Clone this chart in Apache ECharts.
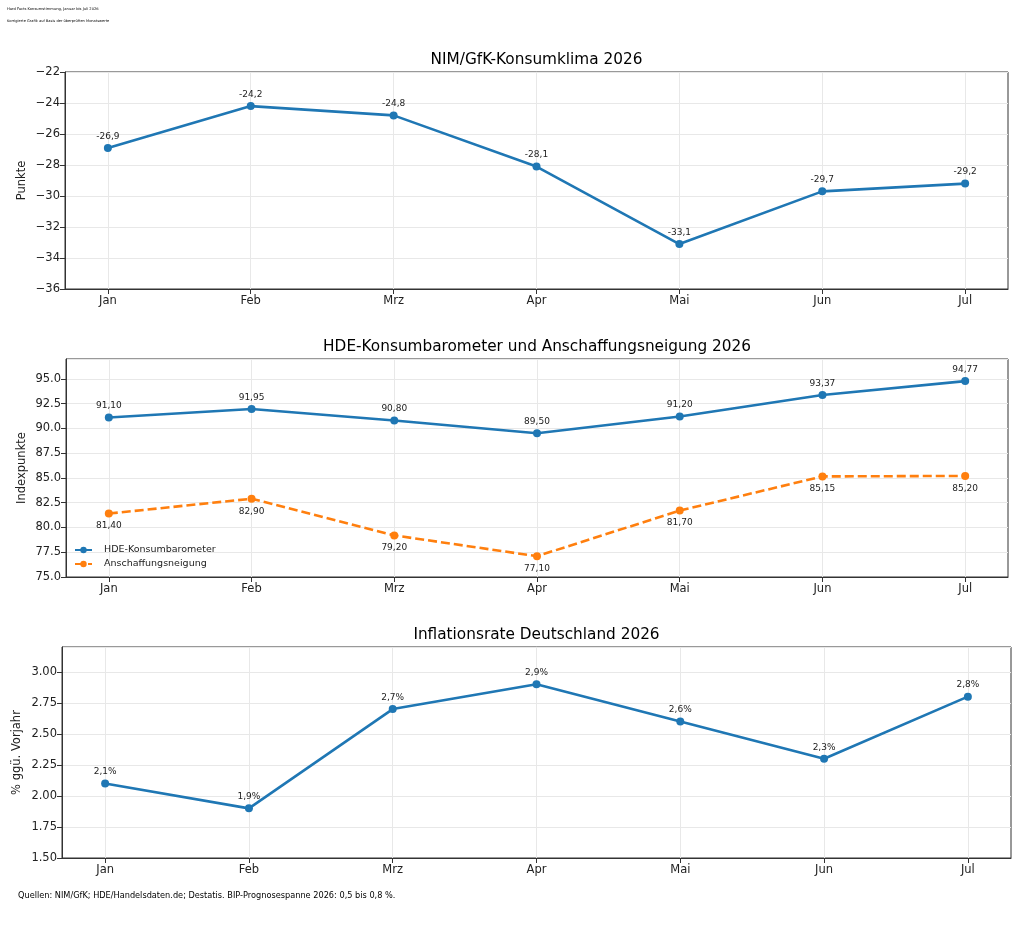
<!DOCTYPE html>
<html><head><meta charset="utf-8">
<script src="https://cdn.jsdelivr.net/npm/echarts@6/dist/echarts.min.js"></script>
<style>html,body{margin:0;padding:0;background:#fff}#c{width:1024px;height:925px}</style>
</head><body><div id="c"></div>
<script>
const months = ['Jan','Feb','Mrz','Apr','Mai','Jun','Jul'];
const gfk = [-26.9, -24.2, -24.8, -28.1, -33.1, -29.7, -29.2];
const hde = [91.10, 91.95, 90.80, 89.50, 91.20, 93.37, 94.77];
const anschaffung = [81.40, 82.90, 79.20, 77.10, 81.70, 85.15, 85.20];
const inflation = [2.1, 1.9, 2.7, 2.9, 2.6, 2.3, 2.8];
const titles = ['NIM/GfK-Konsumklima 2026', 'HDE-Konsumbarometer und Anschaffungsneigung 2026', 'Inflationsrate Deutschland 2026'];
const yNames = ['Punkte', 'Indexpunkte', '% ggü. Vorjahr'];
const headerLines = ['Hard Facts Konsumstimmung, Januar bis Juli 2026', 'Korrigierte Grafik auf Basis der überprüften Monatswerte'];
const footer = 'Quellen: NIM/GfK; HDE/Handelsdaten.de; Destatis. BIP-Prognosespanne 2026: 0,5 bis 0,8 %.';

const FONT = 'DejaVu Sans';
const BLUE = '#1f77b4', ORANGE = '#ff7f0e';
const idx = months.map((m, i) => i);
const pts = arr => arr.map((v, i) => [i, v]);
const comma = (v, d) => v.toFixed(d).replace('.', ',');

const grids = [
  {left: 65, right: 16, top: 72, height: 217},
  {left: 66, right: 16, top: 359, height: 218},
  {left: 62, right: 13, top: 647, height: 211}
];
const yCfg = [
  {min: -36, max: -22, interval: 2, fmt: v => String(v).replace('-', '\u2212'), gap: 37},
  {min: 75, max: 97, interval: 2.5, fmt: v => v.toFixed(1), gap: 37.5},
  {min: 1.5, max: 3.2, interval: 0.25, fmt: v => v.toFixed(2), gap: 39}
];

const gridLine = {show: true, lineStyle: {color: '#e8e8e8', width: 1}};
const lbl = (pos, dist, f) => ({show: true, position: pos, distance: dist, fontSize: 9, color: '#222', fontFamily: FONT, formatter: f});
const option = {
  backgroundColor: '#fff',
  animation: false,
  textStyle: {fontFamily: FONT},
  title: titles.map((t, i) => ({
    text: t,
    left: (grids[i].left + 1024 - grids[i].right) / 2 - 5,
    top: grids[i].top - 24,
    textAlign: 'center',
    textStyle: {fontFamily: FONT, fontSize: 15.3, fontWeight: 'normal', color: '#000'}
  })),
  grid: grids.map(g => Object.assign({show: true, borderColor: '#333', borderWidth: 1, backgroundColor: 'transparent'}, g)),
  xAxis: grids.map((g, i) => ({
    type: 'value', gridIndex: i, min: -0.3, max: 6.3,
    axisLine: {show: true, onZero: false, lineStyle: {color: '#333'}},
    axisTick: {show: true, length: 5, lineStyle: {color: '#333'}, customValues: idx},
    axisLabel: {customValues: idx, formatter: v => months[Math.round(v)], color: '#222', fontSize: 11.5, fontFamily: FONT, margin: 6},
    splitLine: gridLine
  })),
  yAxis: yCfg.map((c, i) => ({
    type: 'value', gridIndex: i, min: c.min, max: c.max, interval: c.interval,
    name: yNames[i], nameLocation: 'middle', nameGap: c.gap, nameRotate: 90, nameMoveOverlap: false,
    nameTextStyle: {fontFamily: FONT, fontSize: 11.5, color: '#222'},
    axisLine: {show: true, onZero: false, lineStyle: {color: '#333'}},
    axisTick: {show: true, length: 5, lineStyle: {color: '#333'}},
    axisLabel: {formatter: c.fmt, color: '#222', fontSize: 11.5, fontFamily: FONT, margin: 5, showMaxLabel: i === 0},
    splitLine: gridLine
  })),
  legend: {
    data: ['HDE-Konsumbarometer', 'Anschaffungsneigung'],
    orient: 'vertical', left: 69, top: 540, itemGap: 4, itemWidth: 17, itemHeight: 8,
    textStyle: {fontFamily: FONT, fontSize: 9.5, color: '#222', padding: [0, 0, 0, 7]}
  },
  series: [
    {
      name: 'GfK', type: 'line', xAxisIndex: 0, yAxisIndex: 0, data: pts(gfk),
      symbol: 'circle', symbolSize: 8, itemStyle: {color: BLUE}, lineStyle: {color: BLUE, width: 2.6},
      label: lbl('top', 3, p => comma(p.value[1], 1))
    },
    {
      name: 'HDE-Konsumbarometer', type: 'line', xAxisIndex: 1, yAxisIndex: 1, data: pts(hde),
      symbol: 'circle', symbolSize: 8, itemStyle: {color: BLUE}, lineStyle: {color: BLUE, width: 2.6},
      label: lbl('top', 3, p => comma(p.value[1], 2))
    },
    {
      name: 'Anschaffungsneigung', type: 'line', xAxisIndex: 1, yAxisIndex: 1, data: pts(anschaffung),
      symbol: 'circle', symbolSize: 8, itemStyle: {color: ORANGE}, lineStyle: {color: ORANGE, width: 2.6, type: [9, 4]},
      label: lbl('bottom', 4, p => comma(p.value[1], 2))
    },
    {
      name: 'Inflation', type: 'line', xAxisIndex: 2, yAxisIndex: 2, data: pts(inflation),
      symbol: 'circle', symbolSize: 8, itemStyle: {color: BLUE}, lineStyle: {color: BLUE, width: 2.6},
      label: lbl('top', 3, p => comma(p.value[1], 1) + '%')
    }
  ],
  graphic: [
    {type: 'text', left: 7, top: 7, style: {text: headerLines[0], fontSize: 3.7, fontFamily: FONT, fill: '#000'}},
    {type: 'text', left: 7, top: 19, style: {text: headerLines[1], fontSize: 3.6, fontFamily: FONT, fill: '#000'}},
    {type: 'text', left: 18, top: 892, style: {text: footer, fontSize: 8.2, fontFamily: FONT, fill: '#000'}}
  ]
};
echarts.init(document.getElementById('c')).setOption(option);
</script>
</body></html>
